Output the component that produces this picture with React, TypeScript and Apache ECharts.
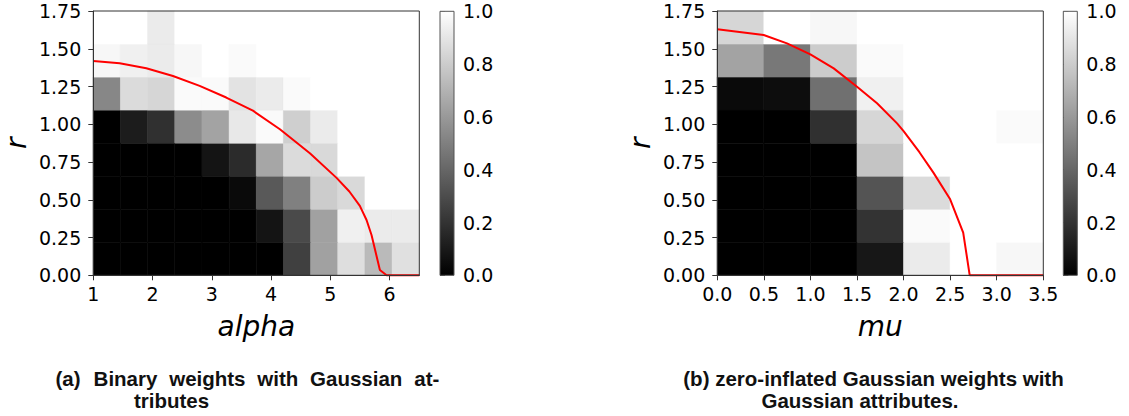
import React, { useEffect, useRef } from 'react';
import * as echarts from 'echarts';

// ---------- data ----------
const alphaRange = [1, 6.5];
const muRange = [0, 3.5];
const rRange = [0, 1.75];

const alphaTicks = [1, 2, 3, 4, 5, 6];
const muTicks = [0, 0.5, 1, 1.5, 2, 2.5, 3, 3.5];
const rTicks = [0, 0.25, 0.5, 0.75, 1, 1.25, 1.5, 1.75];
const cbTicks = [0, 0.2, 0.4, 0.6, 0.8, 1.0];

// Left heatmap (binary weights), rows from r=0 upward, 12 alpha columns
const leftRow1 = [0, 0, 0, 0, 0, 0, 0, 0.25, 0.63, 0.87, 0.73, 0.88];
const leftRow2 = [0, 0, 0, 0, 0, 0, 0.08, 0.29, 0.63, 0.94, 0.92, 0.92];
const leftRow3 = [0, 0, 0, 0, 0, 0.04, 0.35, 0.5, 0.8, 0.85, 1, 1];
const leftRow4 = [0, 0, 0, 0, 0.08, 0.17, 0.65, 0.86, 0.85, 1, 1, 1];
const leftRow5 = [0, 0.11, 0.19, 0.55, 0.64, 0.91, 0.98, 0.81, 0.92, 1, 1, 1];
const leftRow6 = [0.53, 0.86, 0.84, 0.98, 0.98, 0.89, 0.92, 0.98, 1, 1, 1, 1];
const leftRow7 = [0.97, 0.94, 0.92, 0.97, 1, 0.98, 1, 1, 1, 1, 1, 1];
const leftRow8 = [1, 1, 0.92, 1, 1, 1, 1, 1, 1, 1, 1, 1];

// Right heatmap (zero-inflated Gaussian weights), rows from r=0 upward, 7 mu columns
const rightRow1 = [0, 0, 0, 0.09, 0.92, 1, 0.97];
const rightRow2 = [0, 0, 0, 0.2, 0.98, 1, 1];
const rightRow3 = [0, 0, 0, 0.33, 0.86, 1, 1];
const rightRow4 = [0, 0, 0, 0.77, 1, 1, 1];
const rightRow5 = [0, 0, 0.19, 0.84, 1, 1, 0.98];
const rightRow6 = [0.04, 0.05, 0.44, 0.94, 1, 1, 1];
const rightRow7 = [0.64, 0.47, 0.8, 0.98, 1, 1, 1];
const rightRow8 = [0.84, 1, 0.97, 1, 1, 1, 1];

// Red threshold curves
const leftCurveAlpha = [1.0, 1.445, 1.894, 2.344, 2.794, 3.243, 3.693, 4.148, 4.654, 5.104, 5.32, 5.497, 5.61, 5.694, 5.835, 5.948, 6.5];
const leftCurveR = [1.419, 1.404, 1.371, 1.32, 1.254, 1.177, 1.09, 0.967, 0.808, 0.645, 0.555, 0.46, 0.366, 0.267, 0.035, 0, 0];
const rightCurveMu = [0, 0.498, 0.748, 0.999, 1.25, 1.5, 1.715, 1.93, 2.0, 2.17, 2.32, 2.5, 2.64, 2.71, 3.5];
const rightCurveR = [1.629, 1.591, 1.536, 1.463, 1.37, 1.249, 1.139, 1.006, 0.955, 0.815, 0.68, 0.503, 0.283, 0, 0];

const captionA1 = ['(a)', 'Binary', 'weights', 'with', 'Gaussian', 'at-'];
const captionA2 = 'tributes';
const captionB1 = '(b) zero-inflated Gaussian weights with';
const captionB2 = 'Gaussian attributes.';

// ---------- helpers ----------
const leftGridRows = [leftRow1, leftRow2, leftRow3, leftRow4, leftRow5, leftRow6, leftRow7, leftRow8];
const rightGridRows = [rightRow1, rightRow2, rightRow3, rightRow4, rightRow5, rightRow6, rightRow7, rightRow8];

function buildCells(rows: number[][], xr: number[], yr: number[]) {
  const nr = rows.length;
  const nc = rows[0].length;
  const dx = (xr[1] - xr[0]) / nc;
  const dy = (yr[1] - yr[0]) / nr;
  const out: number[][] = [];
  rows.forEach((row, i) =>
    row.forEach((v, j) => {
      out.push([xr[0] + j * dx, xr[0] + (j + 1) * dx, yr[0] + i * dy, yr[0] + (i + 1) * dy, v]);
    })
  );
  return out;
}

const zip = (a: number[], b: number[]) => a.map((v, i) => [v, b[i]]);

const FONT = 'DejaVu Sans';
const AXIS_COLOR = '#333';

function cellRender(params: any, api: any) {
  const p0 = api.coord([api.value(0), api.value(3)]);
  const p1 = api.coord([api.value(1), api.value(2)]);
  const g = Math.round(255 * api.value(4));
  const c = `rgb(${g},${g},${g})`;
  return {
    type: 'rect',
    shape: { x: p0[0], y: p0[1], width: p1[0] - p0[0], height: p1[1] - p0[1] },
    style: { fill: c, stroke: c, lineWidth: 0.6 },
  };
}

function cbRender(params: any, api: any) {
  const p0 = api.coord([0, 1]);
  const p1 = api.coord([1, 0]);
  return {
    type: 'rect',
    shape: { x: p0[0], y: p0[1], width: p1[0] - p0[0], height: p1[1] - p0[1] },
    style: {
      fill: new echarts.graphic.LinearGradient(0, 1, 0, 0, [
        { offset: 0, color: '#000' },
        { offset: 1, color: '#fff' },
      ]),
      stroke: '#555',
      lineWidth: 1,
    },
  };
}

function mainX(gridIndex: number, range: number[], ticks: number[], name: string, digits: number) {
  return {
    type: 'value',
    gridIndex,
    min: range[0],
    max: range[1],
    z: 10,
    axisLine: { show: true, lineStyle: { color: AXIS_COLOR, width: 1 } },
    axisTick: { show: true, length: 5, customValues: ticks, lineStyle: { color: AXIS_COLOR } },
    axisLabel: {
      fontSize: 19,
      fontFamily: FONT,
      color: '#000',
      margin: 9,
      customValues: ticks,
      formatter: (v: number) => v.toFixed(digits),
    },
    splitLine: { show: false },
    name,
    nameLocation: 'middle',
    nameGap: 37,
    nameTextStyle: { fontSize: 28, fontStyle: 'italic', fontFamily: FONT, color: '#000' },
  };
}

function mainY(gridIndex: number) {
  return {
    type: 'value',
    gridIndex,
    min: rRange[0],
    max: rRange[1],
    z: 10,
    axisLine: { show: true, lineStyle: { color: AXIS_COLOR, width: 1 } },
    axisTick: { show: true, length: 5, customValues: rTicks, lineStyle: { color: AXIS_COLOR } },
    axisLabel: {
      fontSize: 19,
      fontFamily: FONT,
      color: '#000',
      margin: 12,
      customValues: rTicks,
      formatter: (v: number) => v.toFixed(2),
    },
    splitLine: { show: false },
    name: 'r',
    nameLocation: 'middle',
    nameGap: 63,
    nameRotate: 90,
    nameTextStyle: { fontSize: 28, fontStyle: 'italic', fontFamily: FONT, color: '#000' },
  };
}

function cbX(gridIndex: number) {
  return { type: 'value', gridIndex, min: 0, max: 1, show: false };
}

function cbY(gridIndex: number) {
  return {
    type: 'value',
    gridIndex,
    position: 'right',
    min: 0,
    max: 1,
    axisLine: { show: false },
    axisTick: { show: true, length: 5, customValues: cbTicks, lineStyle: { color: AXIS_COLOR } },
    axisLabel: {
      fontSize: 19,
      fontFamily: FONT,
      color: '#000',
      margin: 9,
      customValues: cbTicks,
      formatter: (v: number) => v.toFixed(1),
    },
    splitLine: { show: false },
  };
}

const gridStyle = { show: true, borderColor: AXIS_COLOR, borderWidth: 1, backgroundColor: 'transparent', z: 10 };

export default function App() {
  const ref = useRef<HTMLDivElement>(null);
  useEffect(() => {
    if (!ref.current) return;
    const chart = echarts.init(ref.current, undefined, { renderer: 'svg' });
    const captionFont = { fontFamily: 'Liberation Sans', fontWeight: 'bold', fontSize: 20.5, fill: '#111' };
    const aWordX = [55.4, 93.6, 169.2, 257.3, 310.1, 414.3];
    chart.setOption({
      animation: false,
      backgroundColor: '#fff',
      grid: [
        { left: 93.3, top: 11, width: 326, height: 264.3, ...gridStyle },
        { left: 440, top: 11.3, width: 14, height: 264, show: false },
        { left: 717.3, top: 11, width: 326, height: 264.3, ...gridStyle },
        { left: 1063.3, top: 11.3, width: 14, height: 264, show: false },
      ],
      xAxis: [
        mainX(0, alphaRange, alphaTicks, 'alpha', 0),
        cbX(1),
        mainX(2, muRange, muTicks, 'mu', 1),
        cbX(3),
      ],
      yAxis: [mainY(0), cbY(1), mainY(2), cbY(3)],
      series: [
        {
          type: 'custom',
          xAxisIndex: 0,
          yAxisIndex: 0,
          renderItem: cellRender,
          encode: { x: [0, 1], y: [2, 3] },
          data: buildCells(leftGridRows, alphaRange, rRange),
          z: 1,
        },
        {
          type: 'line',
          xAxisIndex: 0,
          yAxisIndex: 0,
          data: zip(leftCurveAlpha, leftCurveR),
          symbol: 'none',
          clip: false,
          lineStyle: { color: '#ff0000', width: 2 },
          z: 5,
        },
        {
          type: 'custom',
          xAxisIndex: 1,
          yAxisIndex: 1,
          renderItem: cbRender,
          data: [[0, 0, 1, 1]],
        },
        {
          type: 'custom',
          xAxisIndex: 2,
          yAxisIndex: 2,
          renderItem: cellRender,
          encode: { x: [0, 1], y: [2, 3] },
          data: buildCells(rightGridRows, muRange, rRange),
          z: 1,
        },
        {
          type: 'line',
          xAxisIndex: 2,
          yAxisIndex: 2,
          data: zip(rightCurveMu, rightCurveR),
          symbol: 'none',
          clip: false,
          lineStyle: { color: '#ff0000', width: 2 },
          z: 5,
        },
        {
          type: 'custom',
          xAxisIndex: 3,
          yAxisIndex: 3,
          renderItem: cbRender,
          data: [[0, 0, 1, 1]],
        },
      ],
      graphic: [
        ...captionA1.map((w, i) => ({
          type: 'text',
          x: aWordX[i],
          y: 378,
          style: { text: w, ...captionFont, textAlign: 'left', textVerticalAlign: 'middle' },
        })),
        {
          type: 'text',
          x: 134,
          y: 400,
          style: { text: captionA2, ...captionFont, textAlign: 'left', textVerticalAlign: 'middle' },
        },
        {
          type: 'text',
          x: 873.5,
          y: 378,
          style: { text: captionB1, ...captionFont, textAlign: 'center', textVerticalAlign: 'middle' },
        },
        {
          type: 'text',
          x: 860,
          y: 400,
          style: { text: captionB2, ...captionFont, textAlign: 'center', textVerticalAlign: 'middle' },
        },
      ],
    });
    return () => chart.dispose();
  }, []);
  return (
    <div
      ref={ref}
      style={{ position: 'fixed', left: 0, top: 0, width: 1129, height: 416 }}
    />
  );
}
